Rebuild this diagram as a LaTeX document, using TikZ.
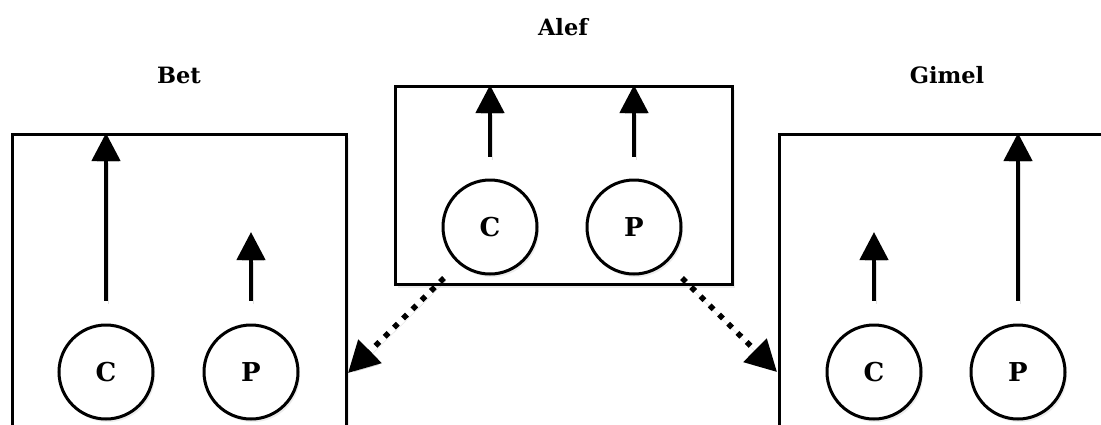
\documentclass[tikz,border=0pt]{standalone}
\usepackage{fontspec}
\setmainfont{DejaVu Serif}
\usetikzlibrary{arrows.meta,shadows}
\begin{document}
\begin{tikzpicture}[x=1pt,y=-1pt,
  shade/.style={preaction={draw=black,opacity=0.12,transform canvas={shift={(2pt,-3pt)}}}},
  box/.style={draw=black,line width=3pt,fill=white,inner sep=0pt,anchor=north west,
    drop shadow={opacity=0.15,shadow xshift=2pt,shadow yshift=-3pt}},
  ball/.style={circle,draw=black,line width=3pt,fill=white,minimum size=94pt,inner sep=0pt,
    font=\fontsize{26}{30}\selectfont\bfseries,
    drop shadow={opacity=0.15,shadow xshift=2pt,shadow yshift=-3pt}},
  title/.style={font=\fontsize{22.5}{26}\selectfont\bfseries},
  up/.style={shade,line width=4.5pt,-{Triangle[width=28pt,length=28pt]}},
  move/.style={shade,line width=5.5pt,dash pattern=on 5.5pt off 7.5pt,-{Triangle[width=32pt,length=31pt]}}
]
\useasboundingbox (0,0) rectangle (1101,424);
% boxes
\node[box,minimum width=337pt,minimum height=198pt] (alef) at (394,85) {};
\node[box,minimum width=334pt,minimum height=330pt] (bet) at (11,133) {};
\node[box,minimum width=360pt,minimum height=330pt] (gimel) at (778,133) {};
% titles
\node[title] (talef) at (563,27) {Alef};
\node[title] (tbet) at (179,75) {Bet};
\node[title] (tgimel) at (947,75) {Gimel};
% circles
\node[ball] (ac) at (490,227) {C};
\node[ball] (ap) at (634,227) {P};
\node[ball] (bc) at (106,372) {C};
\node[ball] (bp) at (251,372) {P};
\node[ball] (gc) at (874,372) {C};
\node[ball] (gp) at (1018,372) {P};
% arrow ends
\coordinate (acT) at (490,85);
\coordinate (apT) at (634,85);
\coordinate (bcT) at (106,133);
\coordinate (bpT) at (251,232);
\coordinate (gcT) at (874,232);
\coordinate (gpT) at (1018,133);
\draw[up] ([yshift=22pt]ac.north) -- (acT);
\draw[up] ([yshift=22pt]ap.north) -- (apT);
\draw[up] ([yshift=23pt]bc.north) -- (bcT);
\draw[up] ([yshift=23pt]bp.north) -- (bpT);
\draw[up] ([yshift=23pt]gc.north) -- (gcT);
\draw[up] ([yshift=23pt]gp.north) -- (gpT);
% dotted moves
\coordinate (aL) at (444,278);
\coordinate (aR) at (682,278);
\coordinate (bIn) at (348,373);
\coordinate (gIn) at (777,372);
\draw[move] (aL) -- (bIn);
\draw[move] (aR) -- (gIn);
\end{tikzpicture}
\end{document}
